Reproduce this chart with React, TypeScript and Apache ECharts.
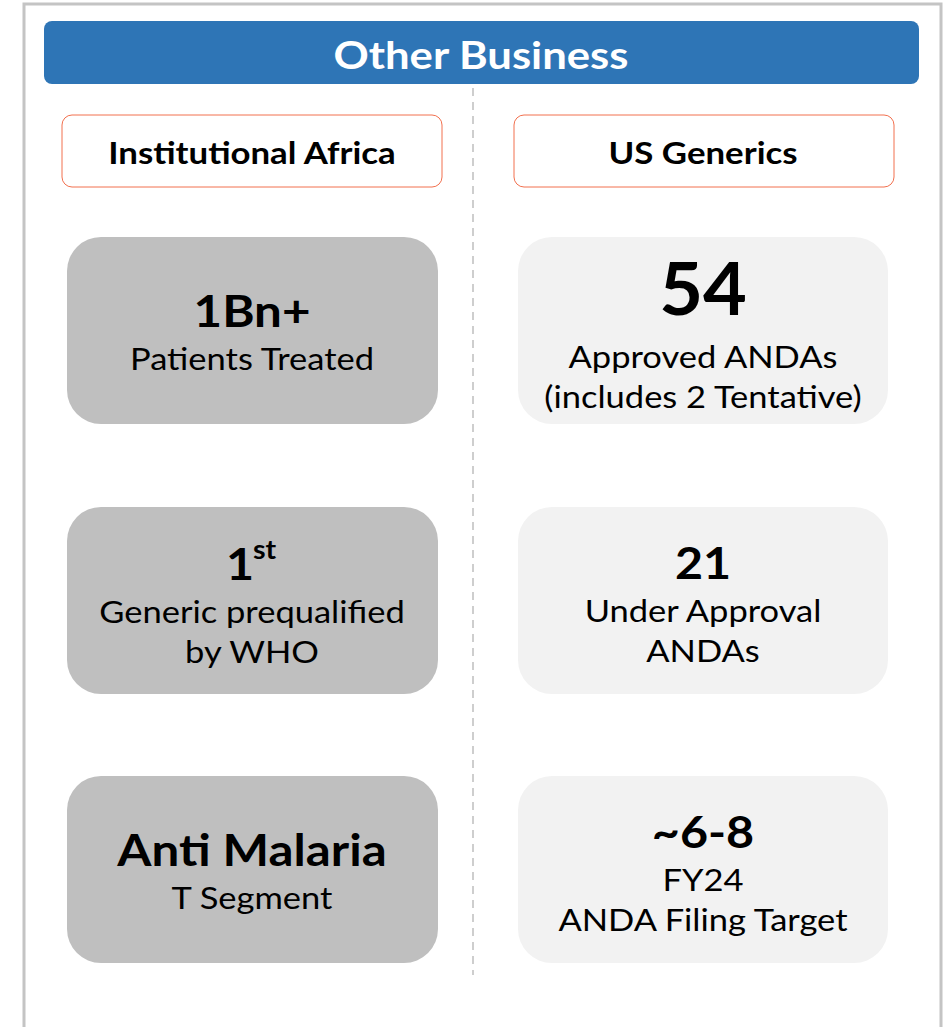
import React, { useEffect, useRef } from "react";
import * as echarts from "echarts";

const title = "Other Business";
const sectionTitles = ["Institutional Africa", "US Generics"];
const leftHeadlines = ["1Bn+", "1", "Anti Malaria"];
const leftSuperscripts = ["", "st", ""];
const leftLines = [["Patients Treated"], ["Generic prequalified", "by WHO"], ["T Segment"]];
const rightHeadlines = ["54", "21", "~6-8"];
const rightLines = [
  ["Approved ANDAs", "(includes 2 Tentative)"],
  ["Under Approval", "ANDAs"],
  ["FY24", "ANDA Filing Target"],
];

const FONT = "Lato, 'Open Sans', sans-serif";

function txt(text: string, x: number, y: number, font: string, sx: number, fill = "#000", align = "center") {
  return {
    type: "text",
    x,
    y,
    scaleX: sx,
    style: { text, x: 0, y: 0, textAlign: align, textVerticalAlign: "middle", fill, font },
  };
}

export default function App() {
  const ref = useRef<HTMLDivElement>(null);
  useEffect(() => {
    if (!ref.current) return;
    const chart = echarts.init(ref.current, null, { renderer: "svg" });
    const els: any[] = [];
    els.push({
      type: "polyline",
      shape: { points: [[24, 1027], [24, 4], [941, 4], [941, 1027]] },
      style: { stroke: "#c4c4c4", lineWidth: 3, fill: "none" },
    });
    els.push({
      type: "rect",
      shape: { x: 44, y: 21, width: 875, height: 63, r: 8 },
      style: { fill: "#2E75B6" },
    });
    els.push(txt(title, 481, 54, `bold 39px ${FONT}`, 1.12, "#fff"));
    els.push({
      type: "line",
      shape: { x1: 473, y1: 88, x2: 473, y2: 975 },
      style: { stroke: "#bfbfbf", lineWidth: 1.5, lineDash: [8, 6] },
    });
    const colX = [62, 514];
    const colCenter = [252, 703];
    sectionTitles.forEach((t, i) => {
      els.push({
        type: "rect",
        shape: { x: colX[i], y: 115, width: 380, height: 72, r: 10 },
        style: { fill: "#fff", stroke: "#F2704E", lineWidth: 1 },
      });
      els.push(txt(t, colCenter[i], 152, `bold 30px ${FONT}`, 1.16));
    });
    const boxY = [237, 507, 776];
    const boxH = 187;
    leftHeadlines.forEach((h, i) => {
      const y0 = boxY[i];
      els.push({
        type: "rect",
        shape: { x: 67, y: y0, width: 371, height: boxH, r: 34 },
        style: { fill: "#BFBFBF" },
      });
      const lines = leftLines[i];
      const headY = lines.length === 1 ? y0 + 73 : y0 + 56;
      if (leftSuperscripts[i]) {
        els.push(txt(h, 240, headY, `bold 44px ${FONT}`, 1.1));
        els.push(txt(leftSuperscripts[i], 253, headY - 14, `bold 26px ${FONT}`, 1.1, "#000", "left"));
      } else {
        els.push(txt(h, 252, headY, `bold 44px ${FONT}`, 1.12));
      }
      lines.forEach((l, j) => {
        els.push(txt(l, 252, headY + 48 + j * 40, `30px ${FONT}`, 1.15));
      });
    });
    rightHeadlines.forEach((h, i) => {
      const y0 = boxY[i];
      els.push({
        type: "rect",
        shape: { x: 518, y: y0, width: 370, height: boxH, r: 34 },
        style: { fill: "#F2F2F2" },
      });
      const big = i === 0;
      const headY = big ? y0 + 50 : y0 + 55;
      els.push(txt(h, 703, headY, `bold ${big ? 72 : 44}px ${FONT}`, big ? 1.05 : 1.1));
      const firstY = big ? y0 + 119 : y0 + 103;
      rightLines[i].forEach((l, j) => {
        els.push(txt(l, 703, firstY + j * 40, `30px ${FONT}`, 1.15));
      });
    });
    chart.setOption({ animation: false, graphic: { elements: els } });
    return () => chart.dispose();
  }, []);
  return <div ref={ref} style={{ position: "absolute", left: 0, top: 0, width: 950, height: 1027, background: "#fff" }} />;
}
